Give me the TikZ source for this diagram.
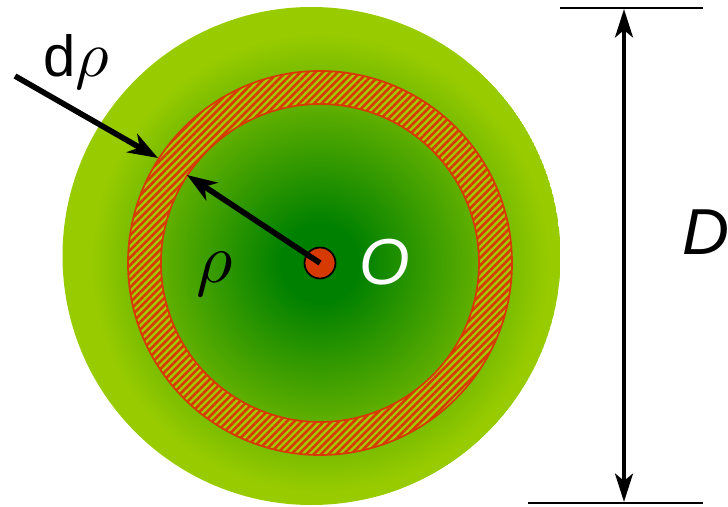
\documentclass[tikz,border=0pt]{standalone}
\usepackage{graphicx}
\usepackage{fontspec}
\setmainfont{Liberation Sans}
\usetikzlibrary{arrows.meta,patterns.meta}
\definecolor{leafgreen}{RGB}{153,204,0}
\definecolor{coregreen}{RGB}{0,128,0}
\definecolor{ringred}{RGB}{214,58,0}
\definecolor{ringbase}{RGB}{165,200,0}
\pgfdeclareradialshading{discshade}{\pgfpoint{0bp}{0bp}}{%
  color(0bp)=(coregreen); color(4bp)=(coregreen); color(24bp)=(leafgreen); color(50bp)=(leafgreen)}
\tikzset{
  bigarrow/.style={line width=3.2pt,-{Stealth[length=17pt,width=12pt,inset=5pt]}},
  dimarrow/.style={line width=2.8pt,{Stealth[length=16pt,width=10pt,inset=4pt]}-{Stealth[length=16pt,width=10pt,inset=4pt]}},
  dimline/.style={line width=1.2pt},
  bigtext/.style={font=\fontsize{37}{40}\selectfont}
}
\begin{document}
\begin{tikzpicture}[x=0.02cm,y=-0.02cm]
  \useasboundingbox (0,0) rectangle (728,507);
  \def\Rout{249} \def\Ra{192} \def\Rb{159}
  % disc
  \coordinate (O) at (320,263);
  \begin{scope}
    \clip (311.5,256) circle[radius=\Rout];
    \fill[leafgreen] (311.5,256) circle[radius=\Rout];
    \shade[shading=discshade] (O) circle[radius=240];
  \end{scope}
  % ring of width d rho
  \fill[ringbase,even odd rule] (O) circle[radius=\Ra] (O) circle[radius=\Rb];
  \fill[even odd rule,pattern={Lines[angle=45,distance=3pt,line width=1.5pt]},pattern color=ringred]
    (O) circle[radius=\Ra] (O) circle[radius=\Rb];
  \draw[ringred,line width=1pt] (O) circle[radius=\Ra] (O) circle[radius=\Rb];
  % centre
  \node[circle,fill=ringred,draw=black,line width=1pt,minimum size=31*0.02cm,inner sep=0pt] (dot) at (O) {};
  \coordinate (rhotip) at (187,175);
  \draw[bigarrow] (O) -- (rhotip);
  \coordinate (drtail) at (15,76);
  \coordinate (drtip) at (158,158);
  \draw[bigarrow] (drtail) -- (drtip);
  % labels
  \node[bigtext,text=white] (lblO) at (385,262) {\itshape O};
  \node (lblrho) at (215,274) {\scalebox{4}{$\rho$}};
  \node[font=\fontsize{33}{35}\selectfont,inner sep=0pt] (lbldrho) at (76,62) {d{\normalsize\scalebox{3.7}{$\rho$}}};
  % diameter
  \coordinate (topL) at (560,8);   \coordinate (topR) at (703,8);
  \coordinate (botL) at (528,503); \coordinate (botR) at (703,503);
  \draw[dimline] (topL) -- (topR);
  \draw[dimline] (botL) -- (botR);
  \coordinate (dimtop) at (624,9);
  \coordinate (dimbot) at (624,502);
  \draw[dimarrow] (dimbot) -- (dimtop);
  \node[bigtext] (lblD) at (706,232) {\itshape D};
\end{tikzpicture}
\end{document}
